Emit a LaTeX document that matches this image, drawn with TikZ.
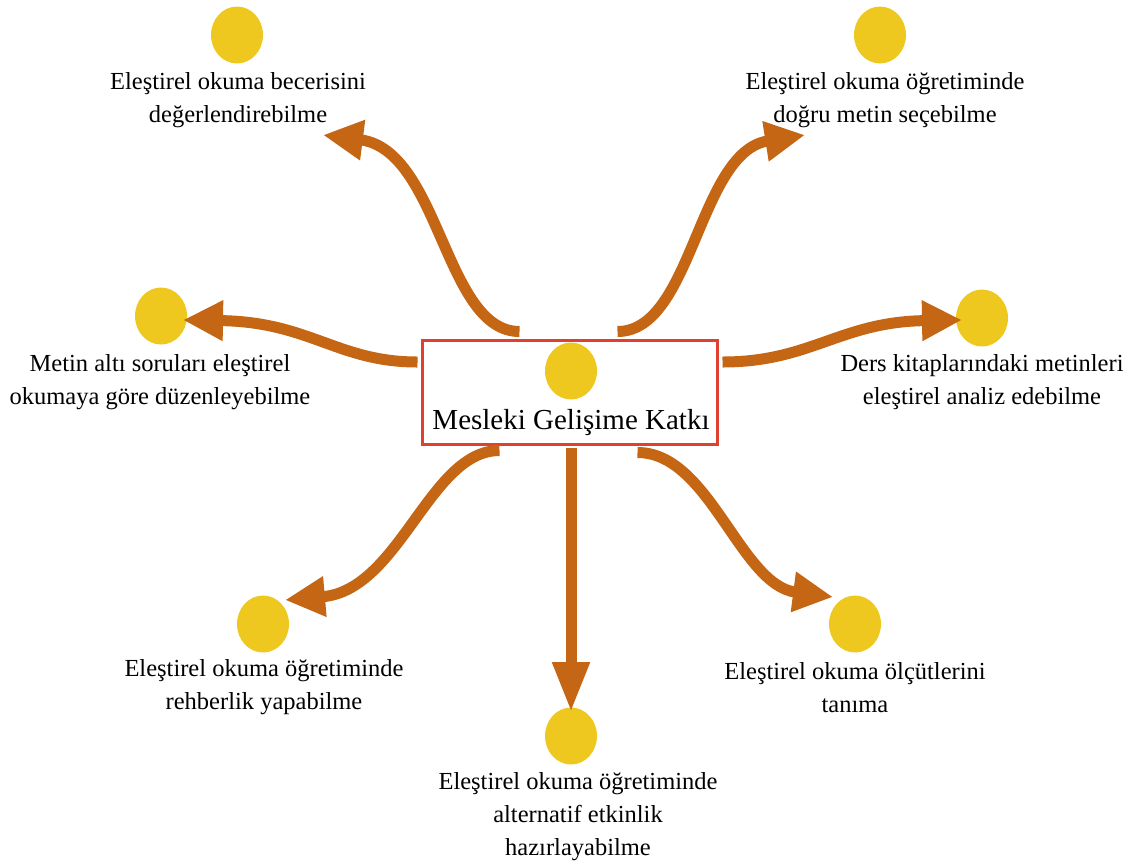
\documentclass[tikz,border=0pt]{standalone}
\usepackage{fontspec}
\setmainfont{Liberation Serif}
\usetikzlibrary{positioning,arrows.meta,shapes.geometric,calc}
\definecolor{flowc}{RGB}{197,102,20}
\definecolor{bulbc}{RGB}{238,200,30}
\definecolor{hubc}{RGB}{224,64,48}

\begin{document}
\begin{tikzpicture}[
  x=1pt, y=-1pt,
  bulb/.style={ellipse, fill=bulbc, minimum width=52pt, minimum height=57pt, inner sep=0pt},
  lbl/.style={align=center, font=\fontsize{24.5}{33}\selectfont, inner sep=0pt},
  flow/.style={draw=flowc, line width=11pt, -{Triangle[length=40pt,width=38pt]}}
]
\useasboundingbox (0,0) rectangle (1131,863);

% Hub
\node[draw=hubc, line width=3pt, minimum width=295pt, minimum height=104pt, inner sep=0pt] (hub) at (569.5,392) {};
\node[bulb] (c0) at (571,371) {};
\node[font=\fontsize{29}{33}\selectfont, inner sep=0pt, anchor=base] (t0) at (571,429) {Mesleki Gelişime Katkı};

% Outer items
\node[bulb] (c1) at (237,35) {};
\node[lbl] (t1) at (238,100) {Eleştirel okuma becerisini\\değerlendirebilme};
\node[bulb] (c2) at (880,35) {};
\node[lbl] (t2) at (885,100) {Eleştirel okuma öğretiminde\\doğru metin seçebilme};
\node[bulb] (c3) at (161,316) {};
\node[lbl] (t3) at (160,382) {Metin altı soruları eleştirel\\okumaya göre düzenleyebilme};
\node[bulb] (c4) at (982,318) {};
\node[lbl] (t4) at (982,382) {Ders kitaplarındaki metinleri\\eleştirel analiz edebilme};
\node[bulb] (c5) at (263,624) {};
\node[lbl] (t5) at (264,687) {Eleştirel okuma öğretiminde\\rehberlik yapabilme};
\node[bulb] (c6) at (571,736) {};
\node[lbl] (t6) at (578,817) {Eleştirel okuma öğretiminde\\alternatif etkinlik\\hazırlayabilme};
\node[bulb] (c7) at (855,624) {};
\node[lbl] (t7) at (855,688) {Eleştirel okuma ölçütlerini\\tanıma};

% Arrow ends
\coordinate (s1) at ($(hub.north)+(-50,-7)$);
\coordinate (s2) at ($(hub.north)+(48,-7)$);
\coordinate (s3) at ($(hub.west)+(-3,-30)$);
\coordinate (s4) at ($(hub.east)+(4,-30)$);
\coordinate (s5) at ($(hub.south)+(-70,5)$);
\coordinate (s6) at ($(hub.south)+(1.5,2)$);
\coordinate (s7) at ($(hub.south)+(68,7)$);
\coordinate (e1) at (323,135);
\coordinate (e2) at (805,135);
\coordinate (e3) at (183,320);
\coordinate (e4) at (962,320);
\coordinate (e5) at (285,600);
\coordinate (e6) at (571,712);
\coordinate (e7) at (833,597);

% Arrows
\draw[flow] (s1) .. controls +(-75,0) and +(117,15) .. (e1);
\draw[flow] (s2) .. controls +(75,0) and +(-107,17) .. (e2);
\draw[flow] (s3) .. controls +(-80,0) and +(127,2) .. (e3);
\draw[flow] (s4) .. controls +(88,0) and +(-122,2) .. (e4);
\draw[flow] (s5) .. controls +(-70,0) and +(115,-10) .. (e5);
\draw[flow, -{Triangle[length=50pt,width=35pt]}] (s6) -- (e6);
\draw[flow] (s7) .. controls +(72,0) and +(-93,-12) .. (e7);

\end{tikzpicture}
\end{document}
